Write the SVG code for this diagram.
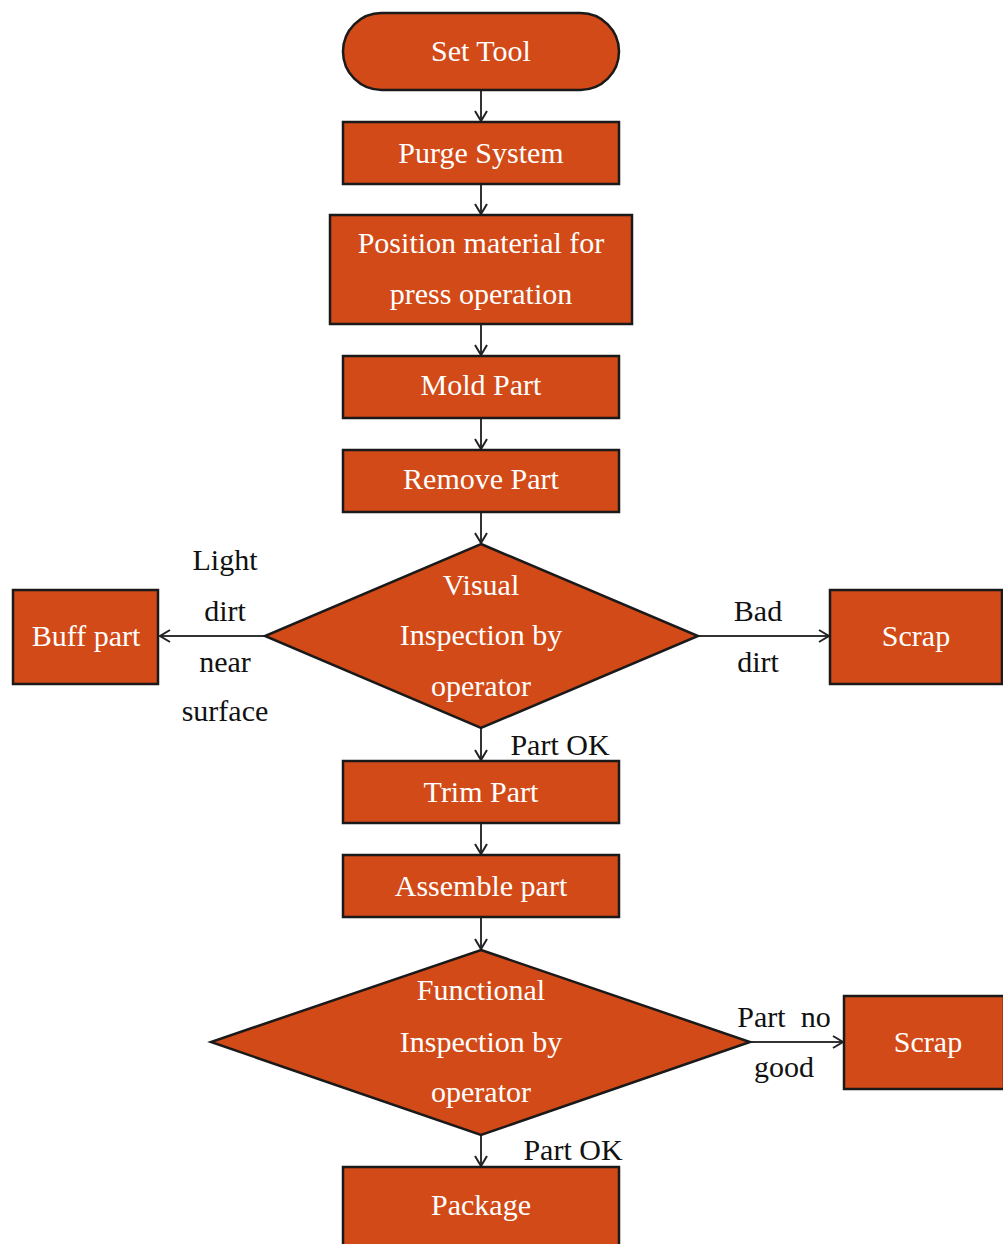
<svg xmlns="http://www.w3.org/2000/svg" width="1003" height="1244" viewBox="0 0 1003 1244">
<defs>
<style>
.n{fill:#D24A17;stroke:#1a1a1a;stroke-width:2.5}
.t{font-family:"Liberation Serif",serif;font-size:30px;fill:#fff;text-anchor:middle}
.l{font-family:"Liberation Serif",serif;font-size:30px;fill:#111;text-anchor:middle}
.c{stroke:#333;stroke-width:2;fill:none}
</style>
<marker id="a" markerWidth="14" markerHeight="14" refX="12" refY="7" orient="auto" markerUnits="userSpaceOnUse">
<path d="M2,1 L12,7 L2,13" fill="none" stroke="#222" stroke-width="2"/>
</marker>
</defs>
<rect width="1003" height="1244" fill="#fff"/>
<g id="connectors">
<line class="c" x1="481" y1="90" x2="481" y2="121" marker-end="url(#a)"/>
<line class="c" x1="481" y1="184" x2="481" y2="214" marker-end="url(#a)"/>
<line class="c" x1="481" y1="324" x2="481" y2="355" marker-end="url(#a)"/>
<line class="c" x1="481" y1="418" x2="481" y2="449" marker-end="url(#a)"/>
<line class="c" x1="481" y1="512" x2="481" y2="543" marker-end="url(#a)"/>
<line class="c" x1="265" y1="636" x2="160" y2="636" marker-end="url(#a)"/>
<line class="c" x1="698" y1="636" x2="829" y2="636" marker-end="url(#a)"/>
<line class="c" x1="481" y1="728" x2="481" y2="760" marker-end="url(#a)"/>
<line class="c" x1="481" y1="823" x2="481" y2="854" marker-end="url(#a)"/>
<line class="c" x1="481" y1="917" x2="481" y2="949" marker-end="url(#a)"/>
<line class="c" x1="750" y1="1042" x2="843" y2="1042" marker-end="url(#a)"/>
<line class="c" x1="481" y1="1135" x2="481" y2="1166" marker-end="url(#a)"/>
<text class="l" x="225" y="570">Light</text>
<text class="l" x="225" y="621">dirt</text>
<text class="l" x="225" y="672">near</text>
<text class="l" x="225" y="721">surface</text>
<text class="l" x="758" y="621">Bad</text>
<text class="l" x="758" y="672">dirt</text>
<text class="l" x="560" y="755">Part OK</text>
<text class="l" x="784" y="1027" xml:space="preserve">Part  no</text>
<text class="l" x="784" y="1077">good</text>
<text class="l" x="573" y="1160">Part OK</text>
</g>
<g id="set-tool"><rect class="n" x="343" y="13" width="276" height="77" rx="38.5"/><text class="t" x="481" y="61">Set Tool</text></g>
<g id="purge"><rect class="n" x="343" y="122" width="276" height="62"/><text class="t" x="481" y="163">Purge System</text></g>
<g id="position"><rect class="n" x="330" y="215" width="302" height="109"/><text class="t" x="481" y="253">Position material for</text><text class="t" x="481" y="304">press operation</text></g>
<g id="mold"><rect class="n" x="343" y="356" width="276" height="62"/><text class="t" x="481" y="395">Mold Part</text></g>
<g id="remove"><rect class="n" x="343" y="450" width="276" height="62"/><text class="t" x="481" y="489">Remove Part</text></g>
<g id="visual"><polygon class="n" points="481,544 698,636 481,728 265,636"/><text class="t" x="481" y="595">Visual</text><text class="t" x="481" y="645">Inspection by</text><text class="t" x="481" y="696">operator</text></g>
<g id="buff"><rect class="n" x="13" y="590" width="145" height="94"/><text class="t" x="86" y="646">Buff part</text></g>
<g id="scrap1"><rect class="n" x="830" y="590" width="172" height="94"/><text class="t" x="916" y="646">Scrap</text></g>
<g id="trim"><rect class="n" x="343" y="761" width="276" height="62"/><text class="t" x="481" y="802">Trim Part</text></g>
<g id="assemble"><rect class="n" x="343" y="855" width="276" height="62"/><text class="t" x="481" y="896">Assemble part</text></g>
<g id="functional"><polygon class="n" points="481,950 750,1042 481,1135 211,1042"/><text class="t" x="481" y="1000">Functional</text><text class="t" x="481" y="1052">Inspection by</text><text class="t" x="481" y="1102">operator</text></g>
<g id="scrap2"><rect class="n" x="844" y="996" width="160" height="93"/><text class="t" x="928" y="1052">Scrap</text></g>
<g id="package"><rect class="n" x="343" y="1167" width="276" height="80"/><text class="t" x="481" y="1215">Package</text></g>
</svg>
